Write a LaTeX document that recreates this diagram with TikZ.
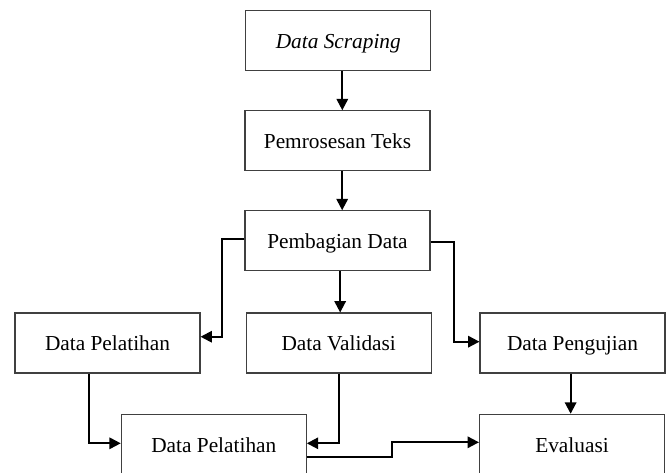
\documentclass[tikz,border=0pt]{standalone}
\usepackage{fontspec}
\setmainfont{Liberation Serif}
\usetikzlibrary{arrows.meta,calc}
\begin{document}
\begin{tikzpicture}[x=0.75pt,y=-0.75pt,
  box/.style={draw=black!75,line width=0.8pt,minimum width=138.75pt,minimum height=45pt,
    inner sep=0pt,text height=13pt,text depth=1.4pt,font=\fontsize{16}{19}\selectfont,fill=white},
  conn/.style={line width=1.5pt,-{Triangle[length=8.5pt,width=8.5pt]}}]
\useasboundingbox (0,0) rectangle (668,472);
\clip (0,0) rectangle (668,472);
\node[box] (scrap) at (338.3,40.8) {\textit{Data Scraping}};
\node[box] (prep) at (337.5,140.8) {Pemrosesan Teks};
\node[box] (split) at (337.5,240.8) {Pembagian Data};
\node[box] (trainL) at (107.5,343) {Data Pelatihan};
\node[box] (val) at (338.7,343) {Data Validasi};
\node[box] (test) at (572.5,343) {Data Pengujian};
\node[box] (trainB) at (213.8,444.3) {Data Pelatihan};
\node[box] (eval) at (572,444.3) {Evaluasi};
\draw[conn] ([xshift=3pt]scrap.south) -- ([xshift=3pt]scrap.south |- prep.north);
\draw[conn] ([xshift=3.5pt]prep.south) -- ([xshift=3.5pt]prep.south |- split.north);
\draw[conn] ([xshift=2pt]split.south) -- ([xshift=2pt]split.south |- val.north);
\draw[conn] ([yshift=1.3pt]split.west) -- ++(-22,0) |- ([yshift=4.7pt]trainL.east);
\draw[conn] ([yshift=-0.6pt]split.east) -- ++(23.3,0) |- ([yshift=1pt]test.west);
\draw[conn] ([xshift=-1.4pt]test.south) -- ([xshift=-1.4pt]test.south |- eval.north);
\draw[conn] ([xshift=-13.9pt]trainL.south) |- ([yshift=0.75pt]trainB.west);
\draw[conn] (val.south) |- ([yshift=0.75pt]trainB.east);
\draw[conn] ([yshift=-9.3pt]trainB.east) -- ++(85,0) |- ([yshift=1.5pt]eval.west);
\end{tikzpicture}
\end{document}
